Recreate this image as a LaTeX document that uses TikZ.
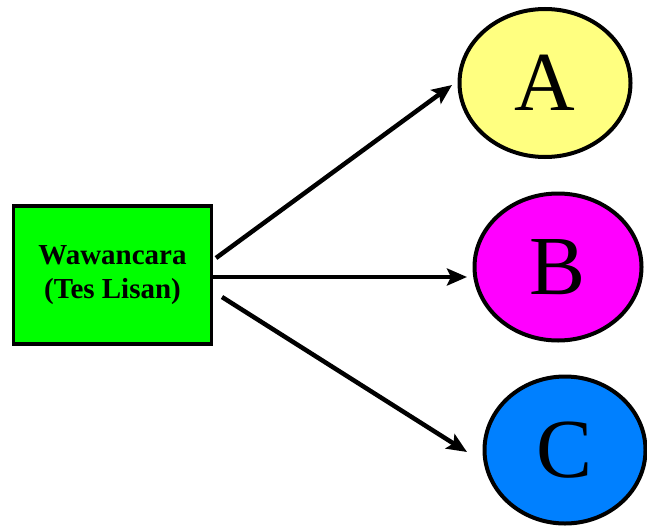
\documentclass[tikz,border=0pt]{standalone}
\usepackage{fontspec}
\setmainfont{Liberation Serif}
\usetikzlibrary{shapes.geometric,arrows.meta}
\definecolor{boxgreen}{HTML}{00FF00}
\definecolor{ayellow}{HTML}{FFFF80}
\definecolor{bmagenta}{HTML}{FF00FF}
\definecolor{cblue}{HTML}{0080FF}
\tikzset{
  mainbox/.style={draw=black, line width=3.5pt, fill=boxgreen, rectangle, minimum width=198pt, minimum height=138pt, inner sep=0pt, align=center, font=\bfseries\fontsize{29}{34}\selectfont},
  oval/.style={draw=black, line width=4pt, ellipse, inner sep=0pt, font=\fontsize{84}{84}\selectfont},
  arr/.style={line width=4.5pt, -{Stealth[length=20pt,width=17pt,inset=4pt]}}
}
\begin{document}
\begin{tikzpicture}[x=1pt,y=-1pt]
\useasboundingbox (0,0) rectangle (647,527);
\node[mainbox] (box) at (112.5,275) {Wawancara\\(Tes Lisan)};
\node[oval, fill=ayellow, minimum width=171pt, minimum height=148pt] (A) at (545,83) {A};
\node[oval, fill=bmagenta, minimum width=167pt, minimum height=147pt] (B) at (558,267) {B};
\node[oval, fill=cblue, minimum width=161pt, minimum height=147pt] (C) at (565,450) {C};
\coordinate (s1) at (216,258);
\coordinate (s2) at (213,277);
\coordinate (s3) at (222,297);
\coordinate (t1) at (452,85);
\coordinate (t2) at (467,277);
\coordinate (t3) at (467,452);
\draw[arr] (s1) -- (t1);
\draw[arr] (s2) -- (t2);
\draw[arr] (s3) -- (t3);
\end{tikzpicture}
\end{document}
